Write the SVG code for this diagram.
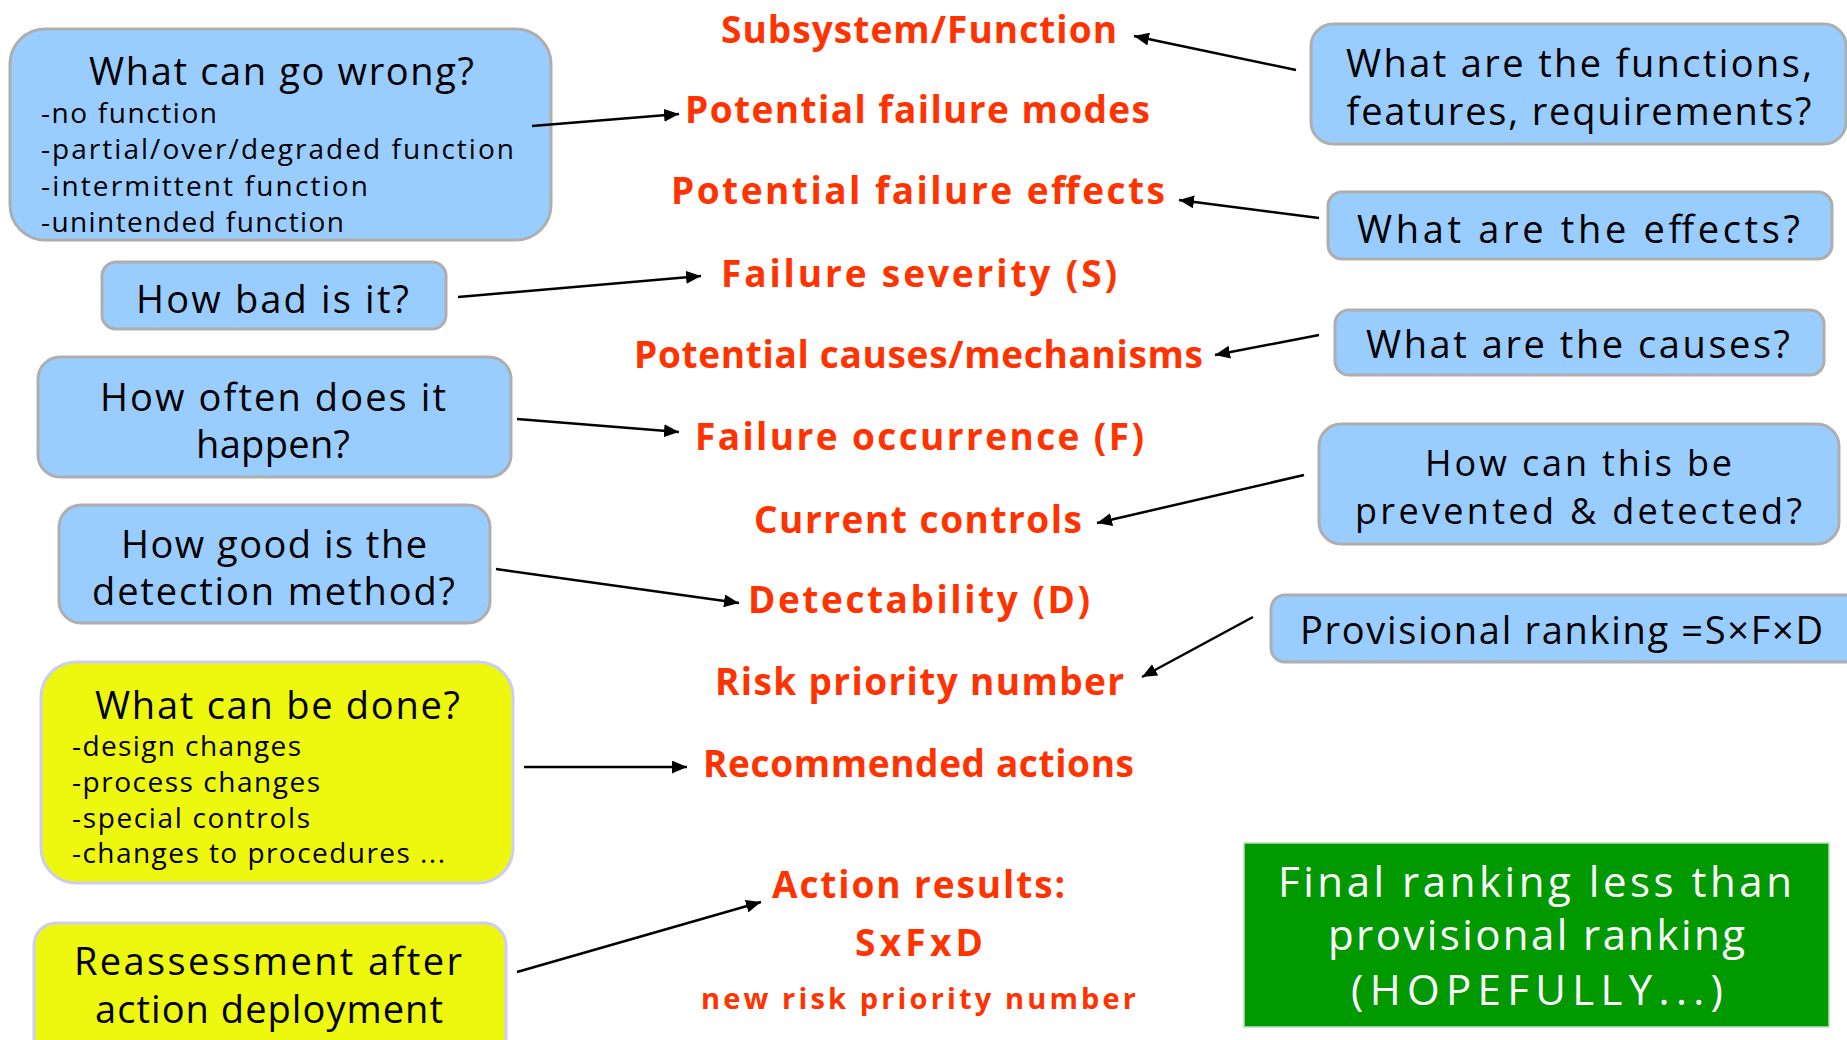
<svg xmlns="http://www.w3.org/2000/svg" width="1847" height="1040" viewBox="0 0 1847 1040">
<defs>
<style>
text{font-family:"Open Sans","Noto Sans",sans-serif;}
.blue{fill:#99ccff;stroke:#aeaeae;stroke-width:3;}
.yel{fill:#eef80f;stroke:#ccccf5;stroke-width:3;}
.grn{fill:#009900;stroke:#b8e0b8;stroke-width:1.5;}
.q{font-size:38px;fill:#000;text-anchor:middle;}
.q2{font-size:36px;fill:#000;text-anchor:middle;}
.s{font-size:28px;fill:#000;}
.r{font-size:37px;font-weight:bold;fill:#ff3300;text-anchor:middle;}
.rs{font-size:29px;font-weight:bold;fill:#ff3300;text-anchor:middle;}
.w{font-size:42px;fill:#fff;text-anchor:middle;}
.c{stroke:#000;stroke-width:2.5;fill:none;marker-end:url(#ah);}
</style>
<marker id="ah" viewBox="0 0 15 13" refX="15" refY="6.5" markerWidth="15" markerHeight="13" markerUnits="userSpaceOnUse" orient="auto">
<path d="M0,0 L15,6.5 L0,13 z" fill="#000"/>
</marker>
</defs>
<rect width="1847" height="1040" fill="#fff"/>

<g id="labels">
<text class="r" x="919" y="43" textLength="396">Subsystem/Function</text>
<text class="r" x="917.5" y="123" textLength="465">Potential  failure  modes</text>
<text class="r" x="918" y="204" textLength="494">Potential  failure  effects</text>
<text class="r" x="919" y="287" textLength="396">Failure  severity  (S)</text>
<text class="r" x="918.5" y="368" textLength="569">Potential  causes/mechanisms</text>
<text class="r" x="919.5" y="450" textLength="449">Failure  occurrence  (F)</text>
<text class="r" x="918" y="533" textLength="328">Current  controls</text>
<text class="r" x="919" y="613" textLength="342">Detectability  (D)</text>
<text class="r" x="919.5" y="695" textLength="409">Risk  priority  number</text>
<text class="r" x="918.5" y="777" textLength="431">Recommended  actions</text>
<text class="r" x="918.5" y="898" textLength="293">Action  results:</text>
<text class="r" x="919" y="956" textLength="128">SxFxD</text>
<text class="rs" x="918.5" y="1009" textLength="435">new  risk  priority  number</text>
</g>

<g id="n-wrong">
<rect class="blue" x="10" y="29" width="541" height="211" rx="35"/>
<text class="q" x="281.5" y="85" textLength="385">What can go wrong?</text>
<text class="s" x="41" y="123" textLength="176">-no function</text>
<text class="s" x="41" y="159" textLength="473">-partial/over/degraded function</text>
<text class="s" x="41" y="196" textLength="327">-intermittent function</text>
<text class="s" x="41" y="232" textLength="303">-unintended function</text>
</g>

<g id="n-bad">
<rect class="blue" x="102" y="262" width="344" height="67" rx="14"/>
<text class="q" x="272.5" y="313" textLength="273">How bad is it?</text>
</g>

<g id="n-often">
<rect class="blue" x="38" y="357" width="473" height="120" rx="22"/>
<text class="q" x="273" y="411" textLength="346">How often does it</text>
<text class="q" x="273" y="458" textLength="154">happen?</text>
</g>

<g id="n-good">
<rect class="blue" x="59" y="505" width="431" height="118" rx="22"/>
<text class="q" x="274" y="558" textLength="306">How good is the</text>
<text class="q" x="273.5" y="605" textLength="363">detection method?</text>
</g>

<g id="n-done">
<rect class="yel" x="41" y="662" width="472" height="221" rx="35"/>
<text class="q" x="277.5" y="719" textLength="365">What can be done?</text>
<text class="s" x="72" y="756" textLength="229">-design changes</text>
<text class="s" x="72" y="792" textLength="248">-process changes</text>
<text class="s" x="72" y="828" textLength="238">-special controls</text>
<text class="s" x="72" y="863" textLength="373">-changes to procedures ...</text>
</g>

<g id="n-reassess">
<rect class="yel" x="34" y="923" width="472" height="140" rx="22"/>
<text class="q" x="268" y="975" textLength="388">Reassessment after</text>
<text class="q" x="269" y="1023" textLength="348">action deployment</text>
</g>

<g id="n-functions">
<rect class="blue" x="1311" y="24" width="535" height="120" rx="22"/>
<text class="q" x="1579" y="77" textLength="466">What are the functions,</text>
<text class="q" x="1579" y="125" textLength="465">features, requirements?</text>
</g>

<g id="n-effects">
<rect class="blue" x="1328" y="192" width="504" height="67" rx="14"/>
<text class="q" x="1578.5" y="243" textLength="443">What are the effects?</text>
</g>

<g id="n-causes">
<rect class="blue" x="1335" y="310" width="489" height="65" rx="14"/>
<text class="q" x="1578" y="358" textLength="424">What are the causes?</text>
</g>

<g id="n-prevent">
<rect class="blue" x="1319" y="424" width="520" height="120" rx="22"/>
<text class="q2" x="1578.5" y="476" textLength="307">How can this be</text>
<text class="q2" x="1578.5" y="524" textLength="447">prevented &amp; detected?</text>
</g>

<g id="n-provisional">
<rect class="blue" x="1271" y="595" width="600" height="67" rx="14"/>
<text class="q" x="1561.5" y="644" textLength="523">Provisional ranking =S×F×D</text>
</g>

<g id="n-final">
<rect class="grn" x="1244" y="843" width="585" height="184"/>
<text class="w" x="1535" y="897" textLength="514">Final ranking less than</text>
<text class="w" x="1536.5" y="950" textLength="417">provisional ranking</text>
<text class="w" x="1537" y="1005" textLength="372">(HOPEFULLY...)</text>
</g>

<g id="connectors">
<line class="c" x1="1296" y1="70" x2="1134" y2="36"/>
<line class="c" x1="532" y1="126" x2="679" y2="114"/>
<line class="c" x1="1319" y1="218" x2="1179" y2="200"/>
<line class="c" x1="458" y1="297" x2="701" y2="276"/>
<line class="c" x1="1319" y1="335" x2="1215" y2="355"/>
<line class="c" x1="517" y1="419" x2="679" y2="432"/>
<line class="c" x1="1304" y1="475" x2="1097" y2="523"/>
<line class="c" x1="496" y1="569" x2="739" y2="603"/>
<line class="c" x1="1253" y1="617" x2="1142" y2="677"/>
<line class="c" x1="524" y1="767" x2="687" y2="767"/>
<line class="c" x1="517" y1="972" x2="761" y2="902"/>
</g>
</svg>
